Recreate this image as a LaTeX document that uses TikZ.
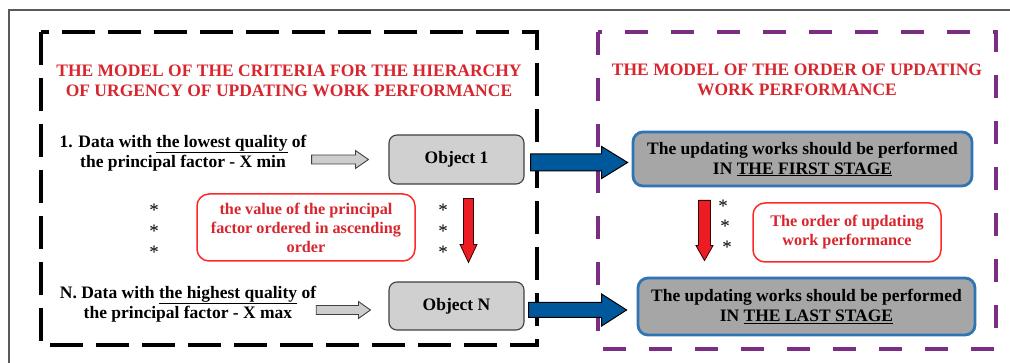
\documentclass[tikz,border=0pt]{standalone}
\usepackage{fontspec}
\setmainfont{Liberation Serif}
\usetikzlibrary{calc}
\definecolor{titlered}{RGB}{215,38,46}
\definecolor{labred}{RGB}{255,40,40}
\definecolor{arrred}{RGB}{237,28,36}
\definecolor{arrblue}{RGB}{0,88,156}
\definecolor{stageborder}{RGB}{46,117,182}
\definecolor{stagefill}{RGB}{166,166,166}
\definecolor{objfill}{RGB}{208,208,208}
\definecolor{hollowfill}{RGB}{205,205,205}
\definecolor{mypurple}{RGB}{123,44,131}
\newcommand\bigfnt{\fontsize{17.5}{20}\selectfont\bfseries}
\newcommand\labfnt{\fontsize{16.2}{19}\selectfont\bfseries}
% horizontal block arrow: style, tail, tip, shaft half, head half, head length
\newcommand\harr[6]{\draw[#1] let \p1=#2, \p2=#3 in (\x1,\y2+#4pt) -- (\x2-#6pt,\y2+#4pt) -- (\x2-#6pt,\y2+#5pt) -- (\x2,\y2) -- (\x2-#6pt,\y2-#5pt) -- (\x2-#6pt,\y2-#4pt) -- (\x1,\y2-#4pt) -- cycle;}
% vertical (downward) block arrow
\newcommand\varr[6]{\draw[#1] let \p1=#2, \p2=#3 in (\x2+#4pt,\y1) -- (\x2+#4pt,\y2+#6pt) -- (\x2+#5pt,\y2+#6pt) -- (\x2,\y2) -- (\x2-#5pt,\y2+#6pt) -- (\x2-#4pt,\y2+#6pt) -- (\x2-#4pt,\y1) -- cycle;}
\begin{document}
\begin{tikzpicture}[x=1pt,y=-1pt,
  title/.style={text=titlered,font=\bigfnt,align=center,inner sep=0},
  datatext/.style={font=\bigfnt,align=center,inner sep=0},
  objbox/.style={draw=black!75,line width=1.1pt,fill=objfill,rounded corners=8pt,minimum width=135pt,font=\bigfnt,inner sep=0},
  stagebox/.style={draw=stageborder,line width=2.8pt,fill=stagefill,rounded corners=10pt,font=\bigfnt,align=center,inner sep=0},
  labbox/.style={draw=labred,line width=1.5pt,rounded corners=12pt,text=titlered,font=\labfnt,align=center,inner sep=0},
  star/.style={font=\fontsize{19}{19}\selectfont,inner sep=0},
  bluearr/.style={fill=arrblue,draw=black,line width=1pt},
  redarr/.style={fill=arrred,draw=black!80!red,line width=0.8pt},
  hollowarr/.style={fill=hollowfill,draw=black!75,line width=0.9pt},
  blackdash/.style={draw=black,line width=4pt,dash pattern=on 33pt off 13pt},
  purpledash/.style={draw=mypurple,line width=3.5pt,dash pattern=on 23pt off 23pt}
]
\useasboundingbox (0,0) rectangle (1010,363);
\fill[white] (0,0) rectangle (1010,363);
% outer frame
\draw[black!65,line width=1.2pt] (9,363) -- (9,10) -- (1010,10);
% dashed boxes
\draw[blackdash] (41,32) rectangle (537,345);
\draw[purpledash] (598,32) rectangle (996,349);
% titles
\node[title] (t1) at (289,81) {THE MODEL OF THE CRITERIA FOR THE HIERARCHY\\OF URGENCY OF UPDATING WORK PERFORMANCE};
\node[title] (t2) at (797,80) {THE MODEL OF THE ORDER OF UPDATING\\WORK PERFORMANCE};
% left texts
\node[datatext] (d1) at (183,153) {1. Data with \underline{the lowest quality} of\\the principal factor - X min};
\node[datatext] (dN) at (188,304) {N. Data with \underline{the highest quality} of\\the principal factor - X max};
% object boxes
\node[objbox,minimum height=49pt] (o1) at (456.5,159.5) {Object 1};
\node[objbox,minimum height=48pt] (oN) at (456.5,306) {Object N};
% stage boxes
\node[stagebox,minimum width=339pt,minimum height=54pt] (s1) at (802.5,159) {The updating works should be performed\\IN \underline{THE FIRST STAGE}};
\node[stagebox,minimum width=337pt,minimum height=57pt] (sN) at (806.5,306.5) {The updating works should be performed\\IN \underline{THE LAST STAGE}};
% red labels
\node[labbox,minimum width=218pt,minimum height=67pt] (l1) at (306,227.5) {the value of the principal\\factor ordered in ascending\\order};
\node[labbox,minimum width=188pt,minimum height=59pt] (l2) at (847,232.5) {The order of updating\\work performance};
% stars
\node[star] (sa1) at (154,210) {*};
\node[star] (sa2) at (154,231) {*};
\node[star] (sa3) at (154,252) {*};
\node[star] (sb1) at (443,210) {*};
\node[star] (sb2) at (443,231) {*};
\node[star] (sb3) at (443,252) {*};
\node[star] (sc1) at (723,206) {*};
\node[star] (sc2) at (725,226) {*};
\node[star] (sc3) at (727,247) {*};
% arrow end points
\coordinate (h1s) at ($(d1.east)+(5,6)$);
\coordinate (h1e) at ($(o1.west)+(-20,0)$);
\coordinate (hNs) at ($(dN.east)+(0,6)$);
\coordinate (hNe) at ($(oN.west)+(-18,4)$);
\coordinate (b1s) at ($(o1.east)+(6,2.5)$);
\coordinate (b1e) at ($(s1.west)+(-4,3.5)$);
\coordinate (bNs) at ($(oN.east)+(4,4)$);
\coordinate (bNe) at ($(sN.west)+(-10,3.5)$);
\coordinate (r1s) at ($(o1.south)+(12,14)$);
\coordinate (r1e) at ($(oN.north)+(12,-19)$);
\coordinate (r2s) at ($(s1.south)+(-98,13)$);
\coordinate (r2e) at ($(sN.north)+(-102,-16)$);
% hollow gray arrows
\harr{hollowarr}{(h1s)}{(h1e)}{4.5}{9}{13}
\harr{hollowarr}{(hNs)}{(hNe)}{4.5}{8.5}{12}
% blue arrows
\harr{bluearr}{(b1s)}{(b1e)}{8.5}{16}{26}
\harr{bluearr}{(bNs)}{(bNe)}{7.5}{16}{25}
% red arrows
\varr{redarr}{(r1s)}{(r1e)}{5}{8.5}{18}
\varr{redarr}{(r2s)}{(r2e)}{6}{8.5}{15}
\end{tikzpicture}
\end{document}
